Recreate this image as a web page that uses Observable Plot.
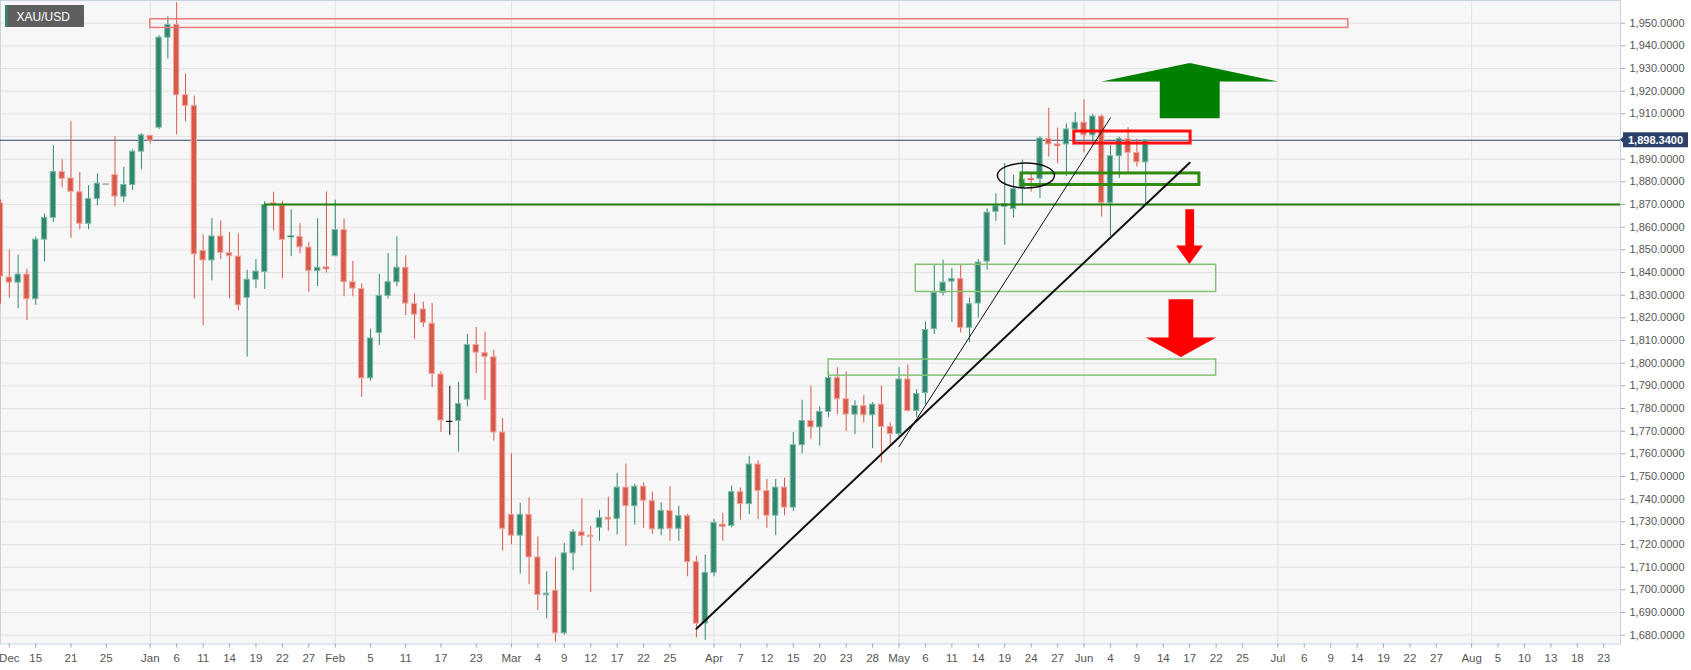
<!DOCTYPE html>
<html>
<head>
<meta charset="utf-8">
<script src="https://cdn.jsdelivr.net/npm/d3@7"></script>
<script src="https://cdn.jsdelivr.net/npm/@observablehq/plot@0.6"></script>
<style>
  html, body { margin: 0; padding: 0; background: #ffffff; }
  #chart { width: 1691px; height: 670px; }
</style>
</head>
<body>
<div id="chart"></div>
<script>
// ---------------- DATA ----------------
const symbol = "XAU/USD";
const candleStart = "2020-12-09";
const holidays = ["2021-04-02"];

const open = [1870.5,1837.8,1835.5,1839.1,1828.2,1854.5,1864.1,1884.3,1881.5,1875.4,1861.5,1872.4,1879.0,1883.0,1873.4,1878.6,1893.3,1900.3,1903.9,1943.6,
  1949.2,1918.2,1913.5,1849.5,1845.3,1855.9,1848.5,1847.0,1828.8,1836.8,1840.2,1870.6,1869.4,1855.6,1855.7,1851.0,1840.6,1842.3,1847.2,1858.7,
  1835.7,1832.7,1793.3,1813.3,1829.7,1835.7,1842.1,1826.1,1823.7,1817.4,1795.0,1774.3,1774.5,1783.9,1808.0,1804.4,1802.6,1769.4,1733.1,1723.9,
  1733.1,1714.3,1697.6,1699.6,1680.8,1716.1,1725.4,1723.9,1727.4,1731.8,1731.2,1745.1,1736.9,1745.5,1739.1,1726.7,1734.8,1726.9,1732.5,1712.2,
  1685.1,1707.5,1728.8,1728.2,1743.1,1737.8,1755.3,1743.6,1732.7,1745.1,1736.3,1763.8,1774.5,1771.7,1778.5,1793.5,1784.1,1777.3,1781.1,1777.0,
  1781.7,1771.9,1768.7,1792.8,1778.9,1786.8,1815.0,1831.0,1836.0,1837.1,1815.6,1826.3,1844.8,1866.8,1868.9,1868.0,1877.2,1881.3,1881.3,1898.9,
  1896.5,1896.5,1903.1,1906.1,1900.5,1908.8,1870.7,1891.3,1898.8,1892.8,1888.6];
const high = [1872.0,1849.8,1847.6,1841.4,1855.7,1865.8,1896.0,1889.7,1906.5,1884.1,1878.3,1883.5,1879.0,1899.9,1886.4,1894.1,1901.2,1900.5,1944.5,1952.8,
  1959.0,1927.6,1917.8,1856.6,1863.8,1862.8,1857.7,1857.0,1841.0,1845.7,1871.3,1875.4,1871.5,1867.7,1861.5,1853.2,1863.8,1875.6,1871.9,1863.6,
  1844.9,1835.0,1815.0,1839.1,1848.3,1855.7,1847.4,1830.6,1826.9,1826.3,1796.2,1789.8,1791.6,1812.7,1815.7,1813.7,1805.6,1775.6,1760.0,1738.2,
  1740.6,1723.3,1708.0,1714.3,1720.5,1726.5,1740.2,1728.0,1735.0,1740.8,1751.3,1755.5,1746.6,1747.2,1743.1,1738.4,1745.5,1736.8,1733.3,1714.8,
  1715.4,1731.0,1733.7,1745.7,1744.9,1758.9,1757.0,1748.7,1748.7,1749.3,1769.4,1783.6,1789.8,1780.7,1796.5,1798.0,1796.2,1783.4,1785.6,1782.6,
  1789.8,1773.6,1798.0,1799.2,1788.3,1818.1,1843.2,1845.5,1841.9,1843.4,1828.7,1845.7,1868.1,1874.7,1888.1,1883.0,1889.6,1883.4,1899.9,1912.5,
  1903.7,1905.6,1910.6,1916.3,1909.7,1909.5,1896.0,1899.7,1903.9,1898.8,1898.3];
const low = [1826.0,1828.7,1824.0,1818.8,1825.5,1844.7,1862.1,1877.4,1855.1,1858.9,1858.9,1869.4,1879.0,1869.0,1870.9,1876.2,1885.4,1896.7,1903.1,1934.2,
  1900.7,1906.5,1828.2,1816.5,1836.3,1845.7,1828.4,1823.1,1802.7,1833.0,1832.5,1858.5,1837.2,1847.0,1848.3,1831.2,1833.8,1839.7,1847.0,1829.3,
  1829.3,1784.9,1792.0,1807.8,1828.4,1833.8,1821.0,1810.5,1815.8,1789.2,1769.4,1768.1,1760.8,1780.7,1795.4,1783.6,1765.7,1717.1,1719.9,1706.9,
  1702.2,1690.7,1687.2,1676.8,1680.0,1708.4,1719.2,1698.8,1721.4,1725.9,1724.2,1719.2,1728.6,1727.2,1724.4,1723.9,1721.4,1721.4,1705.8,1678.7,
  1677.7,1705.8,1721.4,1727.4,1730.8,1733.1,1731.0,1727.1,1723.9,1732.7,1734.6,1760.0,1766.4,1763.4,1776.0,1777.3,1769.8,1768.5,1773.6,1762.3,
  1755.9,1763.8,1767.5,1778.5,1776.0,1781.7,1812.7,1829.7,1818.0,1813.3,1809.0,1819.9,1841.0,1862.6,1852.0,1864.0,1870.0,1875.4,1872.6,1890.9,
  1888.0,1882.4,1902.2,1892.8,1897.5,1864.5,1856.0,1881.5,1883.3,1886.6,1870.3];
const close = [1838.2,1835.5,1839.1,1828.2,1854.5,1864.1,1884.3,1881.3,1875.6,1861.5,1872.4,1879.2,1879.0,1873.5,1878.6,1893.3,1900.5,1898.2,1943.6,1949.2,
  1918.2,1913.5,1848.0,1845.3,1855.9,1848.7,1847.2,1825.5,1836.8,1840.4,1869.8,1869.9,1854.4,1855.9,1851.1,1840.6,1842.1,1841.9,1858.7,1835.7,
  1832.9,1793.3,1810.9,1829.7,1835.7,1842.1,1826.3,1821.4,1817.8,1795.2,1774.7,1774.3,1782.0,1808.0,1804.6,1802.8,1769.4,1726.9,1723.9,1733.1,
  1714.3,1697.7,1698.3,1680.8,1716.1,1725.4,1723.7,1723.3,1731.6,1731.0,1745.1,1736.9,1745.5,1739.3,1726.7,1734.8,1726.9,1732.5,1712.2,1685.1,
  1707.5,1729.5,1728.2,1743.1,1737.8,1755.3,1743.6,1732.7,1745.1,1736.3,1763.8,1774.5,1771.7,1778.5,1793.5,1784.1,1777.3,1781.1,1777.0,1781.7,
  1771.9,1768.7,1792.8,1778.9,1786.4,1814.6,1831.0,1835.5,1837.1,1815.6,1826.0,1844.4,1866.4,1869.2,1870.2,1876.8,1881.0,1881.1,1899.1,1896.5,
  1896.2,1903.1,1906.1,1900.5,1908.8,1870.7,1891.3,1898.8,1892.8,1888.6,1898.3];

const tickDates = ["2020-12-10","2020-12-15","2020-12-21","2020-12-25","2021-01-01","2021-01-06","2021-01-11","2021-01-14","2021-01-19","2021-01-22","2021-01-27",
  "2021-02-01","2021-02-05","2021-02-11","2021-02-17","2021-02-23","2021-03-01","2021-03-04","2021-03-09","2021-03-12","2021-03-17","2021-03-22","2021-03-25",
  "2021-04-01","2021-04-07","2021-04-12","2021-04-15","2021-04-20","2021-04-23","2021-04-28","2021-05-03","2021-05-06","2021-05-11","2021-05-14","2021-05-19",
  "2021-05-24","2021-05-27","2021-06-01","2021-06-04","2021-06-09","2021-06-14","2021-06-17","2021-06-22","2021-06-25","2021-07-01","2021-07-06","2021-07-09",
  "2021-07-14","2021-07-19","2021-07-22","2021-07-27","2021-08-02","2021-08-05","2021-08-10","2021-08-13","2021-08-18","2021-08-23"];
const tickLabels = ["Dec","15","21","25","Jan","6","11","14","19","22","27",
  "Feb","5","11","17","23","Mar","4","9","12","17","22","25",
  "Apr","7","12","15","20","23","28","May","6","11","14","19",
  "24","27","Jun","4","9","14","17","22","25","Jul","6","9",
  "14","19","22","27","Aug","5","10","13","18","23"];
const monthDates = ["2021-01-01","2021-02-01","2021-03-01","2021-04-01","2021-05-03","2021-06-01","2021-07-01","2021-08-02"];
const gridTicks = [1680,1690,1700,1710,1720,1730,1740,1750,1760,1770,1780,1790,1800,1810,1820,1830,1840,1850,1860,1870,1880,1890,1900,1910,1920,1930,1940,1950];
// the 1,900 label is hidden behind the last-price tag
const labelTicks = [1680,1690,1700,1710,1720,1730,1740,1750,1760,1770,1780,1790,1800,1810,1820,1830,1840,1850,1860,1870,1880,1890,1910,1920,1930,1940,1950];

const lastPrice = 1898.34;
const levelPrice = 1870;
const levelStart = "2021-01-20";

// annotations (x in trading-day index, y in price)
const zonesThin = [
  {x1: 17.0, x2: 153.0, y1: 1947.9, y2: 1951.7, color: "#f07a7a"},
  {x1: 103.9, x2: 138.0, y1: 1831.4, y2: 1843.4, color: "#86c274"},
  {x1: 94.0, x2: 138.0, y1: 1794.5, y2: 1801.6, color: "#86c274"}
];
const zonesThick = [
  {x1: 115.9, x2: 136.1, y1: 1878.6, y2: 1883.7, color: "#2f8a10"},
  {x1: 121.9, x2: 135.1, y1: 1896.9, y2: 1902.2, color: "#ff1010"}
];
const trendThick = [[79.0, 1682.8], [135.0, 1888.4]];
const trendThin = [[102.0, 1763.2], [126.0, 1908.2]];
const arrowUp = [[125.0,1924.3],[135.0,1932.4],[145.0,1924.3],[138.4,1924.3],[138.4,1908.0],[131.6,1908.0],[131.6,1924.3]];
const arrowDownSmall = [[134.5,1867.9],[135.5,1867.9],[135.5,1851.9],[136.5,1851.9],[134.96,1843.8],[133.45,1851.9],[134.5,1851.9]];
const arrowDownBig = [[132.6,1828.2],[135.4,1828.2],[135.4,1811.3],[138.0,1811.3],[134.0,1802.7],[130.0,1811.3],[132.6,1811.3]];
const ellipse = {x: 116.46, y: 1882.6, rx: 3.24, ry: 5.5};

// ---------------- BUILD ----------------
const fmtDay = d3.utcFormat("%Y-%m-%d");
const tradingDays = d3.utcDays(new Date(candleStart + "T00:00:00Z"), new Date("2021-09-01T00:00:00Z"))
  .filter(d => d.getUTCDay() !== 0 && d.getUTCDay() !== 6)
  .map(fmtDay)
  .filter(s => !holidays.includes(s));
const dayIndex = new Map(tradingDays.map((s, i) => [s, i]));
const candles = open.map((o, i) => ({i, date: tradingDays[i], open: o, high: high[i], low: low[i], close: close[i]}));
const tickIdx = tickDates.map(s => dayIndex.get(s));
const labelOf = new Map(tickIdx.map((v, k) => [v, tickLabels[k]]));
const monthIdx = monthDates.map(s => dayIndex.get(s));

const GREEN = "#2f8770", GREEN_EDGE = "#7fb9a6";
const RED = "#d7594a", RED_EDGE = "#eea79d";
const colorOf = d => d.high === d.low ? "#8a8a8a" : d.close === d.open ? "#111111" : d.close > d.open ? GREEN : RED;
const edgeOf = d => d.high === d.low ? "#8a8a8a" : d.close === d.open ? "#111111" : d.close > d.open ? GREEN_EDGE : RED_EDGE;
const dojis = candles.filter(d => Math.abs(d.open - d.close) < 0.6);
const HALF = 0.3;

const svgNS = "http://www.w3.org/2000/svg";
function el(name, attrs) {
  const e = document.createElementNS(svgNS, name);
  for (const k in attrs) e.setAttribute(k, attrs[k]);
  return e;
}

function ellipseMark(index, scales) {
  const cx = scales.x(ellipse.x), cy = scales.y(ellipse.y);
  const rx = Math.abs(scales.x(ellipse.x + ellipse.rx) - cx);
  const ry = Math.abs(scales.y(ellipse.y + ellipse.ry) - cy);
  return el("ellipse", {cx, cy, rx, ry, fill: "none", stroke: "#111", "stroke-width": 1.5});
}

function badgeMark() {
  const g = el("g", {});
  g.appendChild(el("rect", {x: 5, y: 5, width: 79, height: 22, fill: "#5e5e5e"}));
  g.appendChild(el("rect", {x: 5, y: 5, width: 2.5, height: 22, fill: "#2e8a6e"}));
  const t = el("text", {x: 16.5, y: 20.5, fill: "#ffffff", "font-size": 12, "text-anchor": "start",
    "font-family": "Liberation Sans, Arial, sans-serif"});
  t.textContent = symbol;
  g.appendChild(t);
  return g;
}

function priceLabelMark(index, scales, values, dims) {
  const y = scales.y(lastPrice);
  const x0 = dims.width - dims.marginRight + 2;
  const g = el("g", {});
  g.appendChild(el("path", {d: `M${x0 - 2},${y} L${x0 + 1},${y - 3} L${x0 + 1},${y + 3} Z`, fill: "#2c416a"}));
  g.appendChild(el("rect", {x: x0 + 1, y: y - 7.5, width: 65, height: 15, fill: "#2c416a"}));
  const t = el("text", {x: x0 + 33.5, y: y + 4, fill: "#ffffff", "font-size": 11, "font-weight": "bold",
    "text-anchor": "middle", "font-family": "Liberation Sans, Arial, sans-serif"});
  t.textContent = d3.format(",.4f")(lastPrice);
  g.appendChild(t);
  return g;
}

const chart = Plot.plot({
  width: 1691,
  height: 670,
  marginTop: 0,
  marginRight: 71,
  marginBottom: 26.5,
  marginLeft: 0,
  x: {type: "linear", domain: [0, 183.9]},
  y: {type: "linear", domain: [1676.1, 1960.0]},
  color: {type: "identity"},
  style: {fontFamily: "Liberation Sans, Arial, sans-serif", fontSize: "11px", background: "#ffffff", overflow: "visible"},
  marks: [
    Plot.frame({fill: "#f7f7f7", stroke: null}),
    Plot.gridY(gridTicks, {stroke: "#e2e2e2", strokeOpacity: 1}),
    Plot.ruleX(monthIdx, {stroke: "#e2e2e2"}),
    Plot.frame({stroke: "#c9d1e3"}),
    Plot.axisY({anchor: "right", ticks: labelTicks, tickFormat: d3.format(",.4f"), tickSize: 4, tickPadding: 5,
      stroke: "#9aa3b5", fill: "#555555", fontSize: 11}),
    Plot.axisX({ticks: tickIdx, tickFormat: d => labelOf.get(d), tickSize: 4, tickPadding: 6,
      stroke: "#9aa3b5", fill: "#555555", fontSize: 11.5}),
    Plot.ruleY([lastPrice], {stroke: "#2c416a", strokeWidth: 1}),
    // candles
    Plot.ruleX(candles, {x: "i", y1: "low", y2: "high", stroke: colorOf, strokeWidth: 1}),
    Plot.rect(candles, {x1: d => d.i - HALF, x2: d => d.i + HALF, y1: "open", y2: "close", fill: colorOf, stroke: edgeOf, strokeWidth: 1}),
    Plot.ruleY(dojis, {y: "close", x1: d => d.i - 0.36, x2: d => d.i + 0.36, stroke: colorOf, strokeWidth: 1.2}),
    // level line
    Plot.ruleY([levelPrice], {x1: dayIndex.get(levelStart), x2: 183.9, stroke: "#1f7d00", strokeWidth: 2}),
    // zones
    Plot.rect(zonesThin, {x1: "x1", x2: "x2", y1: "y1", y2: "y2", fill: "none", stroke: "color", strokeWidth: 1.5}),
    Plot.rect(zonesThick, {x1: "x1", x2: "x2", y1: "y1", y2: "y2", fill: "none", stroke: "color", strokeWidth: 3}),
    // trend lines
    Plot.line(trendThick, {x: d => d[0], y: d => d[1], stroke: "#111", strokeWidth: 2}),
    Plot.line(trendThin, {x: d => d[0], y: d => d[1], stroke: "#111", strokeWidth: 1}),
    // arrows
    Plot.line(arrowUp, {x: d => d[0], y: d => d[1], fill: "#008000", stroke: "none"}),
    Plot.line(arrowDownSmall, {x: d => d[0], y: d => d[1], fill: "#ff0000", stroke: "none"}),
    Plot.line(arrowDownBig, {x: d => d[0], y: d => d[1], fill: "#ff0000", stroke: "none"}),
    ellipseMark,
    badgeMark,
    priceLabelMark
  ]
});
document.getElementById("chart").appendChild(chart);
</script>
</body>
</html>
